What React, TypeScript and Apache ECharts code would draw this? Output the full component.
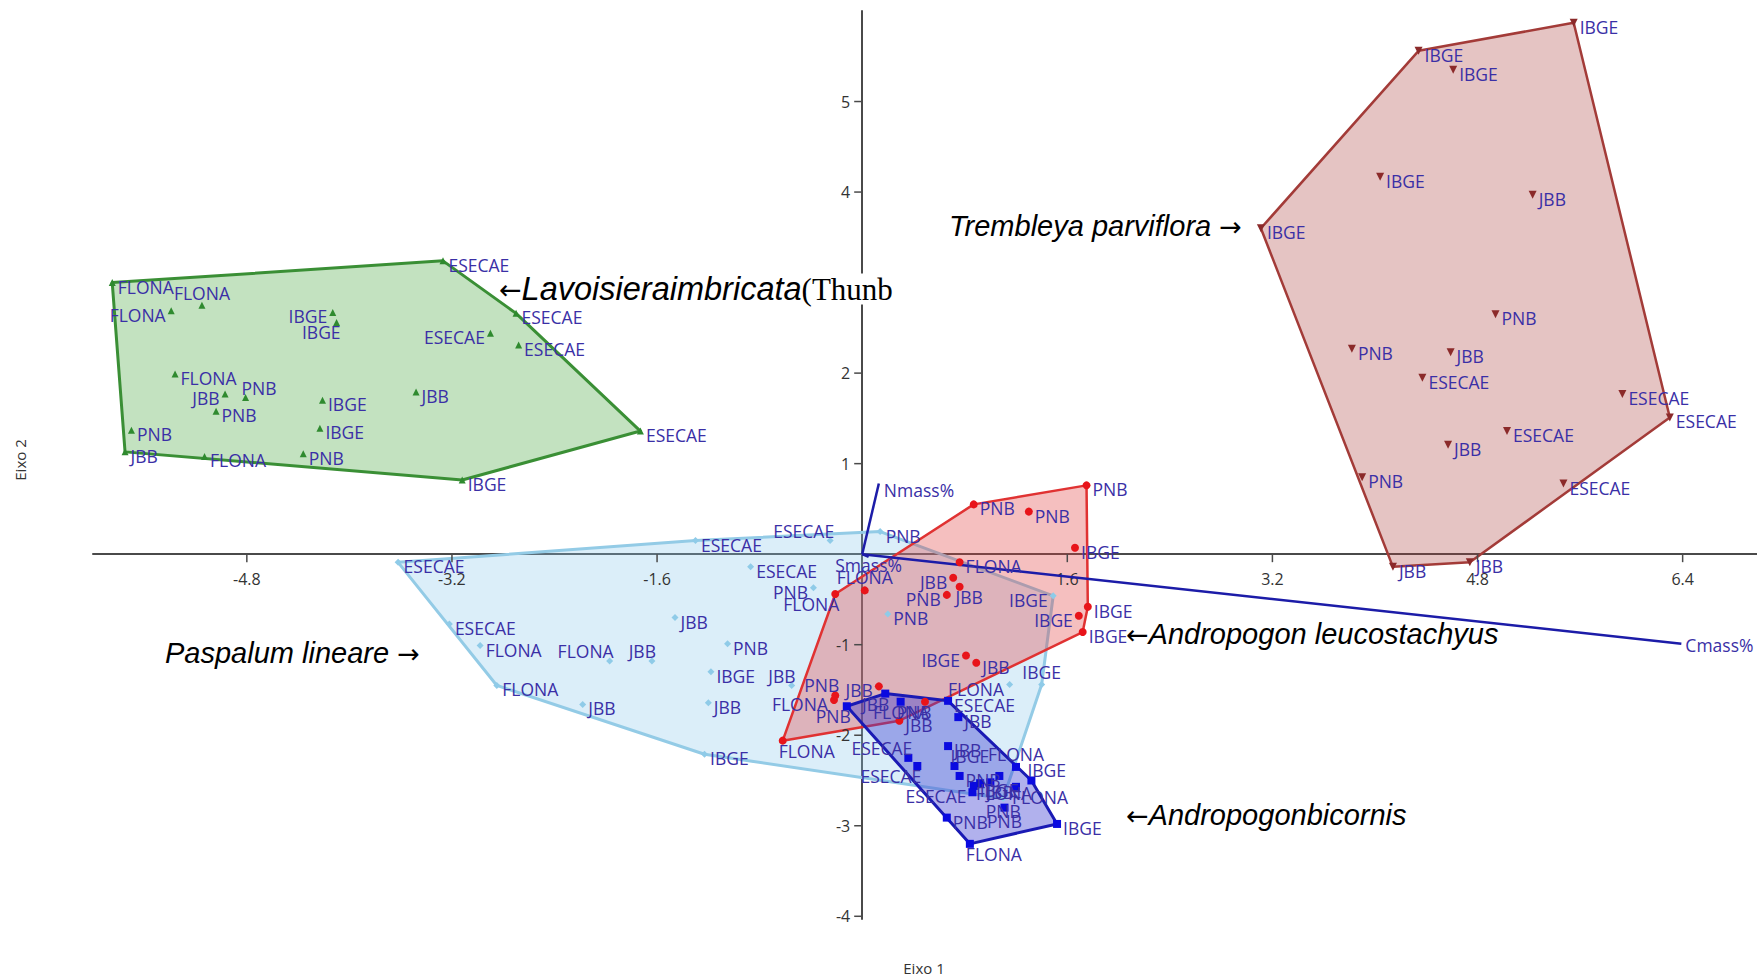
import React, { useEffect, useRef } from 'react';
import * as echarts from 'echarts';

// Axis tick values (the "3" tick of the reference is hidden under the annotation)
const xTicks = [-4.8, -3.2, -1.6, 1.6, 3.2, 4.8, 6.4];
const yTicks = [-4, -3, -2, -1, 1, 2, 4, 5];

// Lavoisiera imbricata (green triangles)
const lavNames = ['FLONA', 'FLONA', 'FLONA', 'IBGE', 'IBGE', 'ESECAE', 'ESECAE', 'ESECAE', 'ESECAE', 'ESECAE', 'IBGE', 'JBB', 'IBGE', 'IBGE', 'PNB', 'FLONA', 'JBB', 'PNB', 'FLONA', 'JBB', 'PNB', 'PNB'];
const lavX = [-5.85, -5.15, -5.39, -4.13, -4.10, -3.27, -2.70, -2.90, -2.68, -1.73, -3.12, -3.48, -4.21, -4.23, -4.36, -5.13, -5.75, -5.70, -5.36, -4.97, -4.81, -5.04];
const lavY = [3.00, 2.75, 2.69, 2.67, 2.56, 3.24, 2.66, 2.44, 2.31, 1.36, 0.82, 1.79, 1.70, 1.39, 1.11, 1.08, 1.13, 1.37, 1.99, 1.77, 1.73, 1.58];

// Trembleya parviflora (dark red down-triangles)
const treNames = ['IBGE', 'IBGE', 'IBGE', 'IBGE', 'JBB', 'IBGE', 'PNB', 'PNB', 'JBB', 'ESECAE', 'ESECAE', 'ESECAE', 'ESECAE', 'JBB', 'PNB', 'ESECAE', 'JBB', 'JBB'];
const treX = [5.55, 4.34, 4.61, 4.04, 5.23, 3.11, 4.94, 3.82, 4.59, 4.37, 5.93, 6.30, 5.03, 4.57, 3.90, 5.47, 4.14, 4.74];
const treY = [5.87, 5.56, 5.35, 4.17, 3.97, 3.60, 2.65, 2.27, 2.23, 1.95, 1.77, 1.51, 1.36, 1.21, 0.85, 0.78, -0.14, -0.09];

// Paspalum lineare (light blue)
const pasNames = ['ESECAE', 'ESECAE', 'ESECAE', 'PNB', 'ESECAE', 'PNB', 'JBB', 'ESECAE', 'FLONA', 'FLONA', 'JBB', 'PNB', 'IBGE', 'JBB', 'FLONA', 'JBB', 'IBGE', 'JBB', 'PNB', 'IBGE', 'FLONA', 'IBGE', 'PNB'];
const pasX = [-3.62, -1.30, -0.25, 0.14, -0.87, -0.38, -1.46, -3.22, -2.98, -1.97, -1.64, -1.05, -1.18, -1.20, -2.85, -2.18, -1.23, -0.55, 0.20, 1.49, 1.15, 1.40, 1.10];
const pasY = [-0.09, 0.15, 0.15, 0.25, -0.14, -0.37, -0.70, -0.77, -1.01, -1.18, -1.18, -0.99, -1.30, -1.64, -1.45, -1.66, -2.21, -1.45, -0.66, -0.46, -1.44, -1.44, -2.70];

// Andropogon leucostachyus (red circles)
const leuNames = ['PNB', 'PNB', 'PNB', 'IBGE', 'FLONA', 'JBB', 'JBB', 'PNB', 'FLONA', 'FLONA', 'IBGE', 'IBGE', 'IBGE', 'IBGE', 'JBB', 'JBB', 'FLONA', 'FLONA', 'JBB', 'FLONA', 'PNB'];
const leuX = [1.75, 0.87, 1.30, 1.66, 0.76, 0.71, 0.76, 0.66, 0.02, -0.21, 1.76, 1.69, 1.72, 0.81, 0.89, 0.13, -0.22, 0.49, 0.29, -0.62, -0.21];
const leuY = [0.76, 0.55, 0.47, 0.07, -0.09, -0.26, -0.36, -0.45, -0.40, -0.44, -0.58, -0.68, -0.86, -1.12, -1.20, -1.46, -1.61, -1.63, -1.84, -2.06, -1.56];

// Andropogon bicornis (blue squares)
const bicNames = ['PNB', 'JBB', 'PNB', 'ESECAE', 'JBB', 'JBB', 'ESECAE', 'ESECAE', 'IBGE', 'PNB', '', 'FLONA', 'IBGE', 'IBGE', 'FLONA', 'JBB', 'ESECAE', 'FLONA', 'PNB', 'PNB', 'FLONA', 'IBGE'];
const bicX = [-0.12, 0.18, 0.30, 0.67, 0.75, 0.67, 0.36, 0.43, 0.72, 0.76, 1.07, 1.20, 1.32, 0.87, 0.92, 1.00, 0.86, 1.20, 1.11, 0.66, 0.84, 1.52];
const bicY = [-1.68, -1.54, -1.63, -1.62, -1.80, -2.12, -2.25, -2.34, -2.34, -2.45, -2.45, -2.35, -2.50, -2.56, -2.53, -2.52, -2.63, -2.57, -2.80, -2.91, -3.20, -2.98];

// Biplot vectors
const vecNames = ['Nmass%', 'Cmass%', 'Smass%'];
const vecX = [0.13, 6.39, 0.05];
const vecY = [0.78, -0.99, -0.03];

// ---- layout (label placement codes, not data) ----
const lavPos = ['r', 't', 'l', 'l', 'bl', 'r', 'r', 'l', 'r', 'r', 'r', 'r', 'r', 'r', 'r', 'r', 'r', 'r', 'r', 'l', 'tr', 'r'];
const trePos = treNames.map(() => 'r');
const pasPos = ['r', 'r', 'tl', 'r', 'r', 'l', 'r', 'r', 'r', 'tl', 'tl', 'r', 'r', 'r', 'r', 'r', 'r', 'tl', 'r', 'l', 'l', 't', 'b'];
const leuPos = ['r', 'r', 'r', 'r', 'r', 'l', 'br', 'l', 't', 'bl', 'r', 'l', 'r', 'l', 'r', 'l', 'l', 'bl', 'r', 'br', 'tl'];
const bicPos = ['bl', 'bl', 'br', 'r', 'r', 'r', 'tl', 'bl', 'tr', 'r', 'r', 't', 'tr', 'r', 'br', 'br', 'l', 'br', 'b', 'r', 'br', 'r'];
const vecLabel = [[5, 6, 'left'], [4, 1, 'left'], [0, 8, 'center']];

const LABEL_COLOR = '#3a2fa6';
const LABEL_FONT = 'Open Sans';
const LABEL_SIZE = 17.5;
const AXIS_COLOR = '#4a4a4a';

function labelFor(code: string): any {
  switch (code) {
    case 'l': return { position: 'left', distance: 2, offset: [0, 4] };
    case 't': return { position: 'top', distance: 0 };
    case 'b': return { position: 'bottom', distance: 0 };
    case 'tl': return { position: 'top', align: 'right', offset: [4, 3], distance: 0 };
    case 'tr': return { position: 'top', align: 'left', offset: [-4, 3], distance: 0 };
    case 'bl': return { position: 'bottom', align: 'right', offset: [4, -3], distance: 0 };
    case 'br': return { position: 'bottom', align: 'left', offset: [-4, -3], distance: 0 };
    default: return { position: 'right', distance: 2, offset: [0, 4] };
  }
}

function convexHull(pts: number[][]): number[][] {
  const p = pts.slice().sort((a, b) => (a[0] - b[0]) || (a[1] - b[1]));
  const cross = (o: number[], a: number[], b: number[]) => (a[0] - o[0]) * (b[1] - o[1]) - (a[1] - o[1]) * (b[0] - o[0]);
  const lower: number[][] = [];
  for (const q of p) {
    while (lower.length >= 2 && cross(lower[lower.length - 2], lower[lower.length - 1], q) <= 0) lower.pop();
    lower.push(q);
  }
  const upper: number[][] = [];
  for (let i = p.length - 1; i >= 0; i--) {
    const q = p[i];
    while (upper.length >= 2 && cross(upper[upper.length - 2], upper[upper.length - 1], q) <= 0) upper.pop();
    upper.push(q);
  }
  upper.pop();
  lower.pop();
  return lower.concat(upper);
}

function hullSeries(xs: number[], ys: number[], stroke: string, fill: string, width: number, z: number): any {
  const h = convexHull(xs.map((x, i) => [x, ys[i]]));
  return {
    type: 'custom',
    z,
    silent: true,
    clip: false,
    data: [[xs[0], ys[0]]],
    renderItem: (_params: any, api: any) => ({
      type: 'polygon',
      shape: { points: h.map((q) => api.coord(q)) },
      style: { fill, stroke, lineWidth: width, lineJoin: 'round' },
    }),
  };
}

function scatterSeries(names: string[], xs: number[], ys: number[], pos: string[], symbol: string, size: number, color: string, rotate = 0): any {
  return {
    type: 'scatter',
    z: 5,
    symbol,
    symbolSize: size,
    symbolRotate: rotate,
    itemStyle: { color, opacity: 1 },
    label: {
      show: true,
      formatter: '{b}',
      color: LABEL_COLOR,
      fontFamily: LABEL_FONT,
      fontSize: LABEL_SIZE,
    },
    emphasis: { disabled: true },
    data: names.map((n, i) => ({
      name: n,
      value: [xs[i], ys[i]],
      label: n ? labelFor(pos[i]) : { show: false },
    })),
  };
}

// Axis ticks and labels drawn at the crossing axes (through the cartesian scale)
const xTickSeries: any = {
  type: 'custom',
  z: 3.5,
  silent: true,
  clip: false,
  data: xTicks.map((v) => [v, 0]),
  renderItem: (params: any, api: any) => {
    const p = api.coord([api.value(0), 0]);
    return {
      type: 'group',
      children: [
        { type: 'line', shape: { x1: p[0], y1: p[1], x2: p[0], y2: p[1] + 8 }, style: { stroke: AXIS_COLOR, lineWidth: 1.5 } },
        {
          type: 'text', x: p[0], y: p[1] + 25,
          style: { text: String(xTicks[params.dataIndex]), fill: '#333', fontFamily: LABEL_FONT, fontSize: 16, textAlign: 'center', textVerticalAlign: 'middle' },
        },
      ],
    };
  },
};

const yTickSeries: any = {
  type: 'custom',
  z: 3.5,
  silent: true,
  clip: false,
  data: yTicks.map((v) => [0, v]),
  renderItem: (params: any, api: any) => {
    const p = api.coord([0, api.value(1)]);
    return {
      type: 'group',
      children: [
        { type: 'line', shape: { x1: p[0] - 8, y1: p[1], x2: p[0], y2: p[1] }, style: { stroke: AXIS_COLOR, lineWidth: 1.5 } },
        {
          type: 'text', x: p[0] - 12, y: p[1],
          style: { text: String(yTicks[params.dataIndex]), fill: '#333', fontFamily: LABEL_FONT, fontSize: 16, textAlign: 'right', textVerticalAlign: 'middle' },
        },
      ],
    };
  },
};

const vectorSeries: any = {
  type: 'custom',
  z: 4,
  silent: true,
  clip: false,
  data: vecNames.map((_n, i) => [vecX[i], vecY[i]]),
  renderItem: (params: any, api: any) => {
    const i = params.dataIndex;
    const o = api.coord([0, 0]);
    const e = api.coord([api.value(0), api.value(1)]);
    const lp = vecLabel[i];
    return {
      type: 'group',
      children: [
        { type: 'line', shape: { x1: o[0], y1: o[1], x2: e[0], y2: e[1] }, style: { stroke: '#1c1ca8', lineWidth: 2.5 } },
        {
          type: 'text',
          x: e[0] + (lp[0] as number),
          y: e[1] + (lp[1] as number),
          style: {
            text: vecNames[i],
            fill: LABEL_COLOR,
            fontFamily: LABEL_FONT,
            fontSize: LABEL_SIZE,
            textAlign: lp[2],
            textVerticalAlign: 'middle',
          },
        },
      ],
    };
  },
};

const annFont = 'Liberation Sans';
const arrowFont = 'DejaVu Sans';
const annSize = 29;

function annText(x: number, y: number, rich: string, big = false): any {
  const sz = big ? 32.5 : annSize;
  return {
    type: 'text', z: 100, x, y,
    style: {
      text: rich,
      textVerticalAlign: 'middle',
      rich: {
        a: { fill: '#000', fontFamily: arrowFont, fontSize: 27 },
        i: { fill: '#000', fontFamily: annFont, fontSize: sz, fontStyle: 'italic' },
        s: { fill: '#000', fontFamily: 'Liberation Serif', fontSize: 31, backgroundColor: '#ffffff' },
      },
    },
  };
}

const option: any = {
  animation: false,
  backgroundColor: '#ffffff',
  grid: { left: 93, right: 0, top: 11, bottom: 59, containLabel: false },
  xAxis: {
    type: 'value',
    min: -6,
    max: 6.98,
    axisLine: { show: true, onZero: true, lineStyle: { color: AXIS_COLOR, width: 2 } },
    axisTick: { show: false },
    axisLabel: { show: false },
    splitLine: { show: false },
  },
  yAxis: {
    type: 'value',
    min: -4.03,
    max: 6,
    axisLine: { show: true, onZero: true, lineStyle: { color: AXIS_COLOR, width: 2 } },
    axisTick: { show: false },
    axisLabel: { show: false },
    splitLine: { show: false },
  },
  series: [
    hullSeries(lavX, lavY, '#3a8f35', 'rgba(80,170,70,0.34)', 3, 1),
    hullSeries(treX, treY, '#a33b38', 'rgba(170,60,55,0.30)', 2.5, 1),
    hullSeries(pasX, pasY, '#93cbe6', 'rgba(135,200,235,0.30)', 3, 1),
    hullSeries(leuX, leuY, '#e03232', 'rgba(225,60,60,0.33)', 2.5, 2),
    hullSeries(bicX, bicY, '#1a1ab4', 'rgba(60,60,210,0.40)', 3, 3),
    xTickSeries,
    yTickSeries,
    vectorSeries,
    scatterSeries(lavNames, lavX, lavY, lavPos, 'triangle', 7, '#2f8a2f'),
    scatterSeries(treNames, treX, treY, trePos, 'triangle', 8, '#8b2a2a', 180),
    scatterSeries(pasNames, pasX, pasY, pasPos, 'diamond', 7, '#8fcbe8'),
    scatterSeries(leuNames, leuX, leuY, leuPos, 'circle', 8, '#e8141a'),
    scatterSeries(bicNames, bicX, bicY, bicPos, 'rect', 8, '#0a0ae0'),
  ],
  graphic: [
    annText(949, 226, '{i|Trembleya parviflora }{a|→}'),
    annText(499, 289, '{a|←}{i|Lavoisieraimbricata}{s|(Thunb}', true),
    annText(165, 653, '{i|Paspalum lineare }{a|→}'),
    annText(1126, 634, '{a|←}{i|Andropogon leucostachyus}'),
    annText(1126, 815, '{a|←}{i|Andropogonbicornis}'),
    {
      type: 'text', z: 100, x: 924, y: 968,
      style: { text: 'Eixo 1', fill: '#333', fontFamily: LABEL_FONT, fontSize: 15, textAlign: 'center', textVerticalAlign: 'middle' },
    },
    {
      type: 'text', z: 100, x: 20, y: 460, rotation: Math.PI / 2,
      style: { text: 'Eixo 2', fill: '#333', fontFamily: LABEL_FONT, fontSize: 15, textAlign: 'center', textVerticalAlign: 'middle' },
    },
  ],
};

export default function App() {
  const ref = useRef<HTMLDivElement>(null);
  useEffect(() => {
    if (!ref.current) return;
    const chart = echarts.init(ref.current, null, { renderer: 'svg' });
    chart.setOption(option);
    return () => chart.dispose();
  }, []);
  return (
    <div
      ref={ref}
      style={{ position: 'fixed', left: 0, top: 0, width: 1757, height: 978, background: '#ffffff' }}
    />
  );
}
